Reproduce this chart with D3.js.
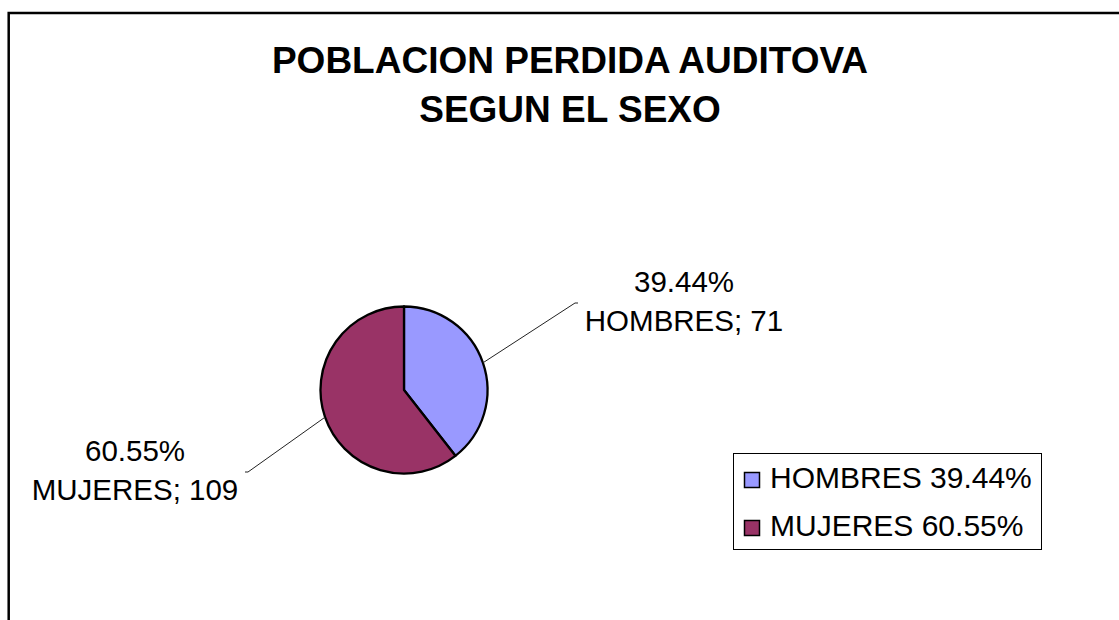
<!DOCTYPE html>
<html>
<head>
<meta charset="utf-8">
<script src="https://cdn.jsdelivr.net/npm/d3@7/dist/d3.min.js"></script>
<style>
  html, body { margin: 0; padding: 0; background: #fff; }
  svg { display: block; font-family: "Liberation Sans", Arial, sans-serif; }
</style>
</head>
<body>
<svg id="chart" width="1119" height="620"></svg>
<script>
// Data
const categories = ["HOMBRES", "MUJERES"];
const counts = [71, 109];
const percentLabels = ["39.44%", "60.55%"];
const colors = ["#9999FF", "#993366"];
const titleLines = ["POBLACION PERDIDA AUDITOVA", "SEGUN EL SEXO"];

const svg = d3.select("#chart");
const W = 1119, H = 620;

// Outer chart frame (right and bottom edges run past the page)
svg.append("rect")
  .attr("x", 8.7).attr("y", 13)
  .attr("width", W + 20).attr("height", H + 20)
  .attr("fill", "#fff").attr("stroke", "#000").attr("stroke-width", 2.5);

// Title
const title = svg.append("text")
  .attr("text-anchor", "middle")
  .attr("font-weight", "bold")
  .attr("font-size", 37)
  .attr("fill", "#000");
titleLines.forEach((t, i) => {
  title.append("tspan").attr("x", 570).attr("y", 73 + i * 49).text(t);
});

// Pie
const cx = 404, cy = 390, r = 83.5;
const pie = d3.pie().sort(null).value(d => d.value);
const data = categories.map((c, i) => ({ name: c, value: counts[i], pct: percentLabels[i], color: colors[i] }));
const arcs = pie(data);
const arc = d3.arc().innerRadius(0).outerRadius(r);

const g = svg.append("g").attr("transform", `translate(${cx},${cy})`);
g.selectAll("path")
  .data(arcs)
  .join("path")
  .attr("d", arc)
  .attr("fill", d => d.data.color)
  .attr("stroke", "#000")
  .attr("stroke-width", 2.3)
  .attr("stroke-linejoin", "round");

// Leader lines and data labels
const labelPos = [
  { lx: 684, ly: 292, end: [171, -87], tick: 3 },
  { lx: 135, ly: 461, end: [-156, 82], tick: -3 }
];
arcs.forEach((a, i) => {
  const mid = (a.startAngle + a.endAngle) / 2;
  const p = labelPos[i];
  // leader line leaves the rim along the slice's mid-angle
  const sx = Math.sin(mid) * r, sy = -Math.cos(mid) * r;
  g.append("polyline")
    .attr("points", [[sx, sy], p.end, [p.end[0] + p.tick, p.end[1]]].map(q => q.join(",")).join(" "))
    .attr("fill", "none")
    .attr("stroke", "#222")
    .attr("stroke-width", 1);
  const t = svg.append("text")
    .attr("text-anchor", "middle")
    .attr("font-size", 29.5)
    .attr("fill", "#000");
  t.append("tspan").attr("x", p.lx).attr("y", p.ly).text(a.data.pct);
  t.append("tspan").attr("x", p.lx).attr("y", p.ly + 38.5).text(`${a.data.name}; ${a.data.value}`);
});

// Legend
const legend = svg.append("g");
legend.append("rect")
  .attr("x", 733.5).attr("y", 453.5)
  .attr("width", 308).attr("height", 96)
  .attr("fill", "#fff").attr("stroke", "#000").attr("stroke-width", 1);
data.forEach((d, i) => {
  const y = 488 + i * 48;
  legend.append("rect")
    .attr("x", 744.5).attr("y", y - 15.5)
    .attr("width", 15).attr("height", 15)
    .attr("fill", d.color).attr("stroke", "#000").attr("stroke-width", 1.5);
  legend.append("text")
    .attr("x", 770).attr("y", y)
    .attr("font-size", 30)
    .attr("fill", "#000")
    .text(`${d.name} ${d.pct}`);
});
</script>
</body>
</html>
